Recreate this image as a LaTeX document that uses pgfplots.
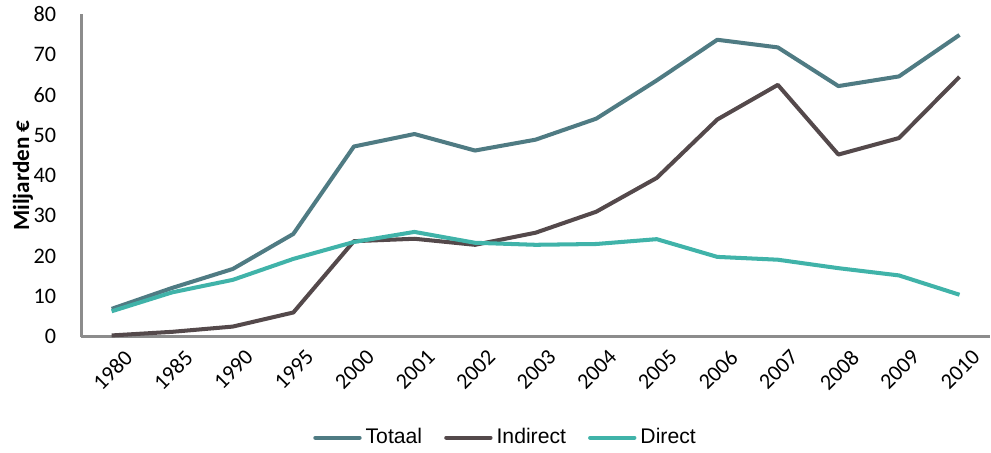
\documentclass[border=0pt]{standalone}
\usepackage{pgfplots}
\pgfplotsset{compat=1.18}
\usepackage{fontspec}
\setmainfont{Carlito}
\newfontfamily\legendfont{Liberation Sans}

\definecolor{totaal}{HTML}{4F7B83}
\definecolor{indirect}{HTML}{54494B}
\definecolor{direct}{HTML}{40B3A9}
\definecolor{axisgray}{HTML}{8C8C8C}

\begin{document}
\begin{tikzpicture}
\begin{axis}[
  scale only axis,
  width=451pt, height=160pt,
  xmin=-0.5, xmax=14.5,
  ymin=0, ymax=80,
  ytick={0,10,...,80},
  xtick=data,
  xticklabels={1980,1985,1990,1995,2000,2001,2002,2003,2004,2005,2006,2007,2008,2009,2010},
  x tick label style={rotate=45, anchor=north east, font=\fontsize{11}{13}\selectfont, inner sep=1pt, xshift=1pt},
  y tick label style={font=\fontsize{11}{13}\selectfont},
  /pgf/number format/assume math mode=true,
  major tick length=0pt,
  axis x line*=bottom, axis y line*=left,
  axis line style={axisgray, line width=1.2pt, -},
  ylabel={\bfseries Miljarden €},
  ylabel style={font=\fontsize{11.5}{14}\selectfont, yshift=-6.5pt},
  yticklabel style={xshift=-9pt},
  xticklabel style={yshift=-7pt},
  legend style={at={(0.468,-0.265)}, anchor=north, draw=none, legend columns=3, inner sep=1pt,
    font=\legendfont\fontsize{10.5}{12}\selectfont,
    /tikz/every even column/.append style={column sep=9pt}},
  legend image code/.code={\draw[#1, line width=2pt, line cap=round] (0pt,0pt) -- (22pt,0pt);},
  every axis plot/.append style={line width=2pt, line join=round},
  clip=false,
]
\addplot[totaal] coordinates {
  (0,6.9) (1,12.1) (2,16.8) (3,25.5) (4,47.2) (5,50.3) (6,46.2) (7,48.9)
  (8,54.1) (9,63.6) (10,73.7) (11,71.8) (12,62.2) (13,64.6) (14,74.9)};
\addlegendentry{Totaal}
\addplot[indirect] coordinates {
  (0,0.3) (1,1.2) (2,2.5) (3,6.0) (4,23.7) (5,24.3) (6,22.8) (7,25.8)
  (8,31.0) (9,39.4) (10,53.9) (11,62.5) (12,45.2) (13,49.3) (14,64.5)};
\addlegendentry{Indirect}
\addplot[direct] coordinates {
  (0,6.3) (1,11.0) (2,14.1) (3,19.3) (4,23.5) (5,26.0) (6,23.3) (7,22.8)
  (8,23.0) (9,24.2) (10,19.8) (11,19.1) (12,17.0) (13,15.2) (14,10.4)};
\addlegendentry{Direct}
\end{axis}
% white margin left of the y label
\path (current bounding box.west) ++(-3pt,0);
\end{tikzpicture}
\end{document}
